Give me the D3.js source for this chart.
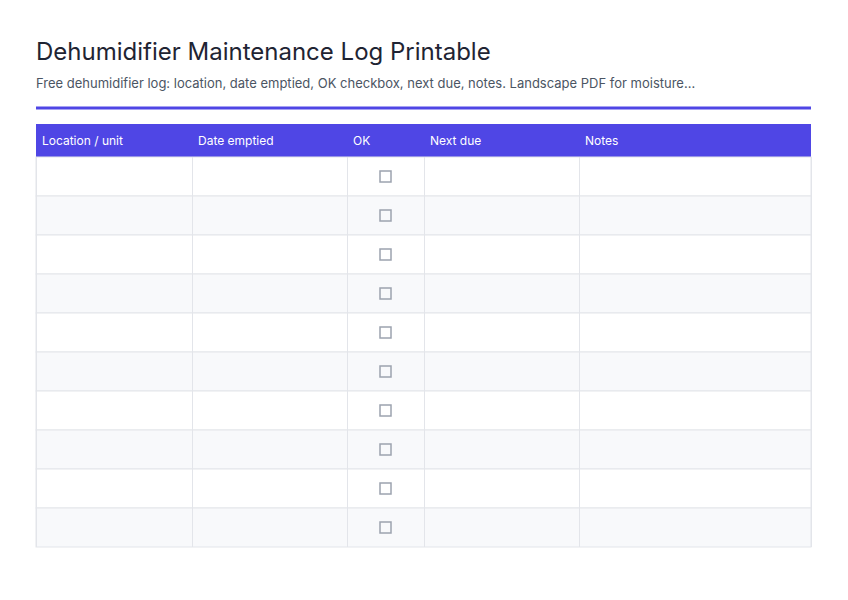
<!DOCTYPE html>
<html><head><meta charset="utf-8">
<script src="https://cdn.jsdelivr.net/npm/d3@7"></script>
<style>body{margin:0;background:#fff;font-family:Inter,sans-serif}</style>
</head><body><div class="container"></div>
<script>
var title = "Dehumidifier Maintenance Log Printable";
var subtitle = "Free dehumidifier log: location, date emptied, OK checkbox, next due, notes. Landscape PDF for moisture…";
var columns = ["Location / unit", "Date emptied", "OK", "Next due", "Notes"];
var columnWidths = [156, 155, 77, 155, 232];
var checkColumn = [false, false, true, false, false];
var rows = d3.range(1, 11);

var w = 848, h = 600;
var left = 36, tableTop = 124, headH = 33, rowH = 39;

var svg = d3.select(".container").append("svg").attr("width", w).attr("height", h);

svg.append("text").attr("x", left).attr("y", 60).attr("font-size", 24)
   .attr("fill", "#1f2433").text(title);
svg.append("text").attr("x", left).attr("y", 88).attr("font-size", 13)
   .attr("fill", "#4b5563").text(subtitle);
svg.append("rect").attr("x", left).attr("y", 106.5).attr("width", 775).attr("height", 3)
   .attr("fill", "#4f46e5");

// column positions
var edges = [0];
columnWidths.forEach(function (d) { edges.push(edges[edges.length - 1] + d); });
var x = d3.scaleLinear().domain([0, edges[edges.length - 1]]).range([left, left + 775]);
var y = d3.scaleBand().domain(rows).range([tableTop + headH, tableTop + headH + rowH * rows.length]);

svg.append("rect").attr("x", left).attr("y", tableTop).attr("width", 775).attr("height", headH)
   .attr("fill", "#4f46e5");
svg.selectAll(".head").data(columns).enter().append("text")
   .attr("x", function (d, i) { return x(edges[i]) + 6; })
   .attr("y", tableTop + 21).attr("font-size", 12).attr("fill", "#fff")
   .text(function (d) { return d; });

svg.selectAll(".row").data(rows).enter().append("rect")
   .attr("x", left).attr("y", function (d) { return y(d); })
   .attr("width", 775).attr("height", rowH)
   .attr("fill", function (d, i) { return i % 2 ? "#f8f9fb" : "#fff"; })
   .attr("stroke", "#e3e5ea").attr("stroke-width", 1);

svg.selectAll(".vline").data(edges).enter().append("line")
   .attr("x1", function (d) { return x(d) + 0.5; }).attr("x2", function (d) { return x(d) + 0.5; })
   .attr("y1", tableTop + headH).attr("y2", y.range()[1])
   .attr("stroke", "#e3e5ea");

columns.forEach(function (c, ci) {
  if (!checkColumn[ci]) return;
  var cx = (x(edges[ci]) + x(edges[ci + 1])) / 2;
  svg.selectAll(".box" + ci).data(rows).enter().append("rect")
     .attr("x", cx - 5.5).attr("y", function (d) { return y(d) + rowH / 2 - 5.5; })
     .attr("width", 11).attr("height", 11)
     .attr("fill", "none").attr("stroke", "#9ca3af").attr("stroke-width", 1.5);
});
</script></body></html>
